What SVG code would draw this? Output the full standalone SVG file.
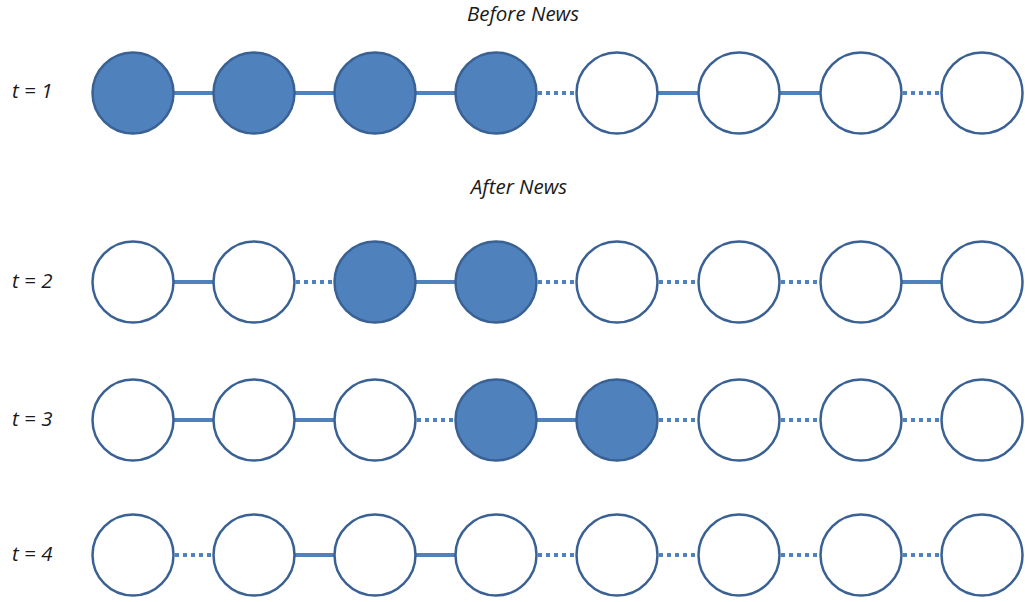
<svg xmlns="http://www.w3.org/2000/svg" width="1025" height="602" viewBox="0 0 1025 602">
<style>
.n{fill:#fff;stroke:#3A6193;stroke-width:2.5}
.f{fill:#4F81BD}
.s{stroke:#4F81BD;stroke-width:4;fill:none}
.d{stroke:#4F81BD;stroke-width:4;fill:none;stroke-dasharray:4 4}
text{font-family:"Open Sans","Liberation Sans",sans-serif;font-style:italic;font-size:20.5px;fill:#1a1a1a}
</style>
<rect width="1025" height="602" fill="#fff"/>
<text x="523" y="21" text-anchor="middle">Before News</text>
<text x="519" y="194" text-anchor="middle">After News</text>
<text x="12" y="98">t = 1</text>
<text x="12" y="288">t = 2</text>
<text x="12" y="426">t = 3</text>
<text x="12" y="561">t = 4</text>
<g id="connectors">
<line class="s" x1="173" y1="93" x2="214" y2="93"/>
<line class="s" x1="294" y1="93" x2="335" y2="93"/>
<line class="s" x1="415" y1="93" x2="456" y2="93"/>
<line class="d" x1="538" y1="93" x2="577" y2="93"/>
<line class="s" x1="658" y1="93" x2="699" y2="93"/>
<line class="s" x1="779" y1="93" x2="821" y2="93"/>
<line class="d" x1="903" y1="93" x2="942" y2="93"/>
<line class="s" x1="173" y1="282" x2="214" y2="282"/>
<line class="d" x1="296" y1="282" x2="335" y2="282"/>
<line class="s" x1="415" y1="282" x2="456" y2="282"/>
<line class="d" x1="538" y1="282" x2="577" y2="282"/>
<line class="d" x1="659" y1="282" x2="699" y2="282"/>
<line class="d" x1="781" y1="282" x2="821" y2="282"/>
<line class="s" x1="901" y1="282" x2="942" y2="282"/>
<line class="s" x1="173" y1="420" x2="214" y2="420"/>
<line class="s" x1="294" y1="420" x2="335" y2="420"/>
<line class="d" x1="417" y1="420" x2="456" y2="420"/>
<line class="s" x1="536" y1="420" x2="577" y2="420"/>
<line class="d" x1="659" y1="420" x2="699" y2="420"/>
<line class="d" x1="781" y1="420" x2="821" y2="420"/>
<line class="d" x1="903" y1="420" x2="942" y2="420"/>
<line class="d" x1="175" y1="555" x2="214" y2="555"/>
<line class="s" x1="294" y1="555" x2="335" y2="555"/>
<line class="s" x1="415" y1="555" x2="456" y2="555"/>
<line class="d" x1="538" y1="555" x2="577" y2="555"/>
<line class="d" x1="659" y1="555" x2="699" y2="555"/>
<line class="d" x1="781" y1="555" x2="821" y2="555"/>
<line class="d" x1="903" y1="555" x2="942" y2="555"/>
</g>
<g id="r1">
<circle id="n1-1" class="n f" cx="133" cy="93" r="40.5"/>
<circle id="n1-2" class="n f" cx="254" cy="93" r="40.5"/>
<circle id="n1-3" class="n f" cx="375" cy="93" r="40.5"/>
<circle id="n1-4" class="n f" cx="496" cy="93" r="40.5"/>
<circle id="n1-5" class="n" cx="617" cy="93" r="40.5"/>
<circle id="n1-6" class="n" cx="739" cy="93" r="40.5"/>
<circle id="n1-7" class="n" cx="861" cy="93" r="40.5"/>
<circle id="n1-8" class="n" cx="982" cy="93" r="40.5"/>
</g>
<g id="r2">
<circle id="n2-1" class="n" cx="133" cy="282" r="40.5"/>
<circle id="n2-2" class="n" cx="254" cy="282" r="40.5"/>
<circle id="n2-3" class="n f" cx="375" cy="282" r="40.5"/>
<circle id="n2-4" class="n f" cx="496" cy="282" r="40.5"/>
<circle id="n2-5" class="n" cx="617" cy="282" r="40.5"/>
<circle id="n2-6" class="n" cx="739" cy="282" r="40.5"/>
<circle id="n2-7" class="n" cx="861" cy="282" r="40.5"/>
<circle id="n2-8" class="n" cx="982" cy="282" r="40.5"/>
</g>
<g id="r3">
<circle id="n3-1" class="n" cx="133" cy="420" r="40.5"/>
<circle id="n3-2" class="n" cx="254" cy="420" r="40.5"/>
<circle id="n3-3" class="n" cx="375" cy="420" r="40.5"/>
<circle id="n3-4" class="n f" cx="496" cy="420" r="40.5"/>
<circle id="n3-5" class="n f" cx="617" cy="420" r="40.5"/>
<circle id="n3-6" class="n" cx="739" cy="420" r="40.5"/>
<circle id="n3-7" class="n" cx="861" cy="420" r="40.5"/>
<circle id="n3-8" class="n" cx="982" cy="420" r="40.5"/>
</g>
<g id="r4">
<circle id="n4-1" class="n" cx="133" cy="555" r="40.5"/>
<circle id="n4-2" class="n" cx="254" cy="555" r="40.5"/>
<circle id="n4-3" class="n" cx="375" cy="555" r="40.5"/>
<circle id="n4-4" class="n" cx="496" cy="555" r="40.5"/>
<circle id="n4-5" class="n" cx="617" cy="555" r="40.5"/>
<circle id="n4-6" class="n" cx="739" cy="555" r="40.5"/>
<circle id="n4-7" class="n" cx="861" cy="555" r="40.5"/>
<circle id="n4-8" class="n" cx="982" cy="555" r="40.5"/>
</g>
</svg>
